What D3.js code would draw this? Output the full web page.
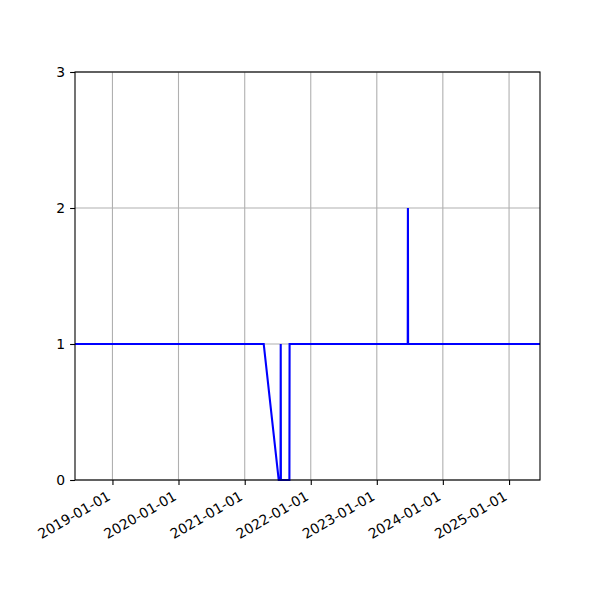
<!DOCTYPE html>
<html>
<head>
<meta charset="utf-8">
<script src="https://cdn.jsdelivr.net/npm/d3@7"></script>
<style>
  body { margin: 0; background: #fff; }
  text { font-family: "DejaVu Sans", sans-serif; }
</style>
</head>
<body>
<div id="chart"></div>
<script>
// data
var dates = ["2018-06-08", "2021-04-16", "2021-07-08", "2021-07-18", "2021-07-19", "2021-07-20",
             "2021-09-05", "2021-09-06", "2023-06-21", "2023-06-22", "2023-06-23", "2025-06-21"];
var values = [1, 1, 0, 0, 1, 0, 0, 1, 1, 2, 1, 1];
var xTicks = ["2019-01-01", "2020-01-01", "2021-01-01", "2022-01-01", "2023-01-01", "2024-01-01", "2025-01-01"];
var yTicks = [0, 1, 2, 3];
var xDomain = ["2018-06-08", "2025-06-21"];

var width = 600, height = 600,
    mLeft = 75, mRight = 540, mTop = 72, mBottom = 480;

var parse = d3.timeParse("%Y-%m-%d");
var data = dates.map(function (d, i) { return { date: parse(d), value: values[i] }; });

var x = d3.scaleTime().domain(xDomain.map(parse)).range([mLeft, mRight]);
var y = d3.scaleLinear().domain([0, 3]).range([mBottom, mTop]);

var svg = d3.select("#chart").append("svg")
  .attr("width", width)
  .attr("height", height);

// grid
svg.append("g").selectAll("line").data(xTicks).enter().append("line")
  .attr("x1", function (d) { return x(parse(d)); })
  .attr("x2", function (d) { return x(parse(d)); })
  .attr("y1", mTop).attr("y2", mBottom)
  .attr("stroke", "#b0b0b0").attr("stroke-width", 1.1);

svg.append("g").selectAll("line").data(yTicks).enter().append("line")
  .attr("x1", mLeft).attr("x2", mRight)
  .attr("y1", function (d) { return y(d); })
  .attr("y2", function (d) { return y(d); })
  .attr("stroke", "#b0b0b0").attr("stroke-width", 1.1);

// line
var line = d3.line()
  .x(function (d) { return x(d.date); })
  .y(function (d) { return y(d.value); });

svg.append("path")
  .datum(data)
  .attr("d", line)
  .attr("fill", "none")
  .attr("stroke", "blue")
  .attr("stroke-width", 2.1);

// axes
var xAxis = svg.append("g")
  .attr("transform", "translate(0," + mBottom + ")")
  .call(d3.axisBottom(x).tickValues(xTicks.map(parse)).tickFormat(d3.timeFormat("%Y-%m-%d")).tickSize(4.9).tickSizeOuter(0));
xAxis.select(".domain").remove();
xAxis.selectAll("line").attr("stroke", "#000").attr("stroke-width", 1.1);
xAxis.selectAll("text")
  .attr("font-size", "13.9px")
  .attr("fill", "#000")
  .attr("text-anchor", "end")
  .attr("y", 0).attr("dy", 0)
  .attr("transform", "translate(-1.5,19) rotate(-30)");

var yAxis = svg.append("g")
  .attr("transform", "translate(" + mLeft + ",0)")
  .call(d3.axisLeft(y).tickValues(yTicks).tickFormat(d3.format("d")).tickSize(4.9).tickPadding(4.9).tickSizeOuter(0));
yAxis.select(".domain").remove();
yAxis.selectAll("line").attr("stroke", "#000").attr("stroke-width", 1.1);
yAxis.selectAll("text").attr("font-size", "13.9px").attr("fill", "#000");

// frame
svg.append("rect")
  .attr("x", mLeft).attr("y", mTop)
  .attr("width", mRight - mLeft).attr("height", mBottom - mTop)
  .attr("fill", "none").attr("stroke", "#000").attr("stroke-width", 1.1);
</script>
</body>
</html>
